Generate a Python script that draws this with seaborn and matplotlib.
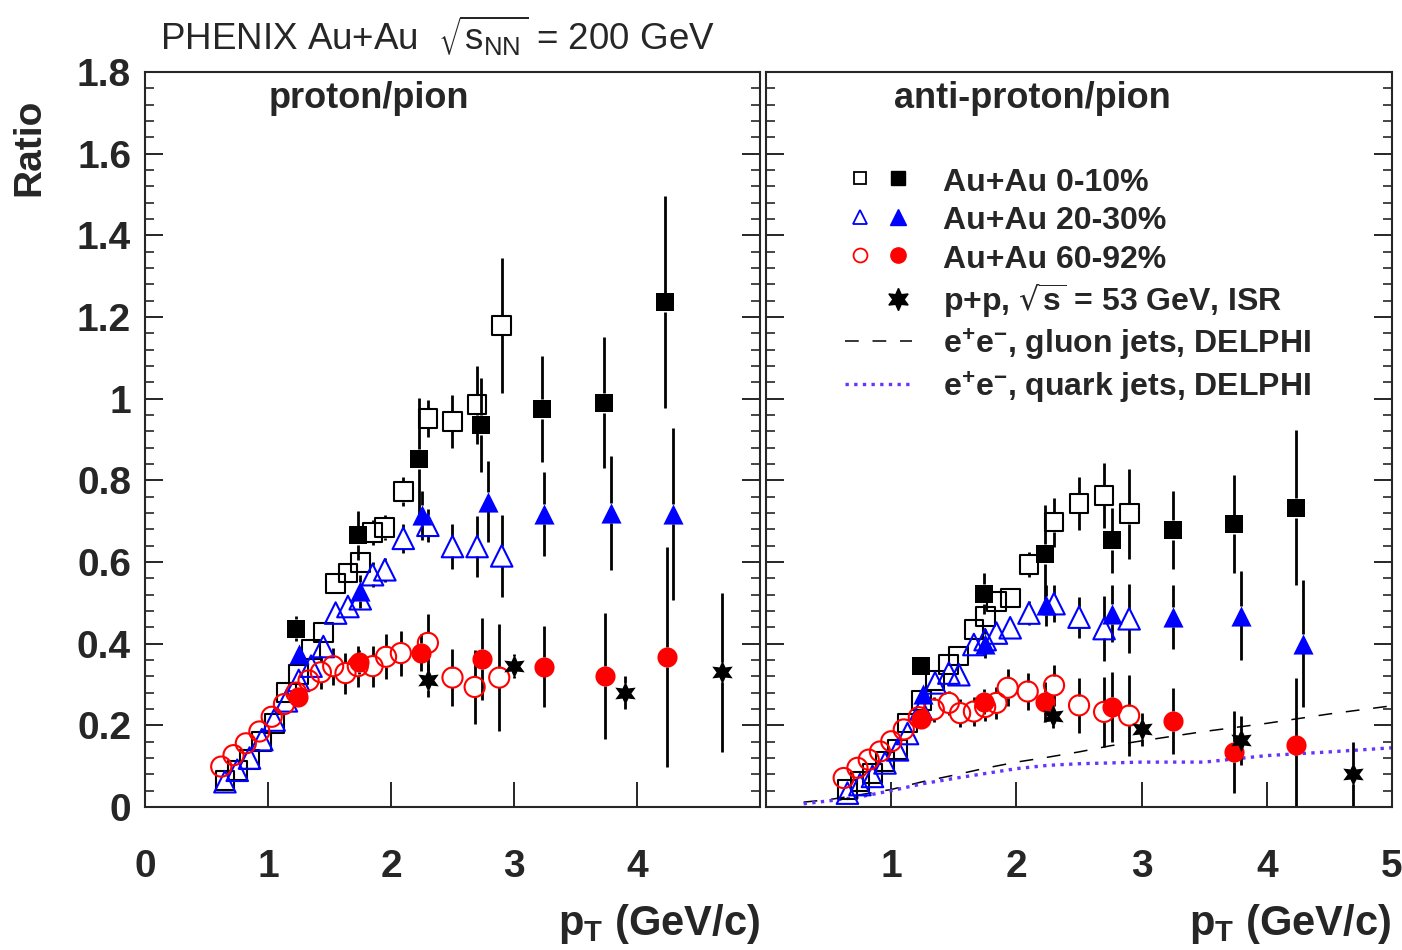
import matplotlib
matplotlib.use("Agg")
import matplotlib.pyplot as plt
import seaborn as sns
from matplotlib.markers import MarkerStyle
from matplotlib.lines import Line2D
from matplotlib.legend_handler import HandlerTuple
from matplotlib.ticker import MultipleLocator, FixedLocator

# ---- proton/pion (left panel) ----
p_open_sq_x = [0.65, 0.75, 0.85, 0.95, 1.05, 1.15, 1.25, 1.35, 1.45, 1.55, 1.65, 1.75, 1.85, 1.95, 2.1, 2.3, 2.5, 2.7, 2.9]
p_open_sq_y = [0.065, 0.09, 0.117, 0.16, 0.205, 0.28, 0.325, 0.385, 0.428, 0.548, 0.573, 0.598, 0.672, 0.684, 0.772, 0.952, 0.945, 0.985, 1.18]
p_open_sq_e = [0.004, 0.004, 0.005, 0.006, 0.007, 0.008, 0.01, 0.012, 0.014, 0.017, 0.02, 0.023, 0.03, 0.03, 0.035, 0.045, 0.065, 0.095, 0.165]

p_open_tr_x = [0.65, 0.75, 0.85, 0.95, 1.05, 1.15, 1.25, 1.35, 1.45, 1.55, 1.65, 1.75, 1.85, 1.95, 2.1, 2.3, 2.5, 2.7, 2.9]
p_open_tr_y = [0.062, 0.09, 0.12, 0.165, 0.213, 0.26, 0.31, 0.345, 0.393, 0.475, 0.491, 0.51, 0.569, 0.581, 0.658, 0.69, 0.638, 0.638, 0.615]
p_open_tr_e = [0.004, 0.004, 0.005, 0.006, 0.007, 0.008, 0.01, 0.011, 0.013, 0.015, 0.02, 0.025, 0.03, 0.03, 0.035, 0.04, 0.055, 0.075, 0.1]

p_open_ci_x = [0.62, 0.72, 0.82, 0.93, 1.03, 1.13, 1.23, 1.33, 1.43, 1.53, 1.63, 1.73, 1.85, 1.96, 2.08, 2.3, 2.5, 2.68, 2.88]
p_open_ci_y = [0.099, 0.127, 0.156, 0.185, 0.221, 0.252, 0.28, 0.31, 0.33, 0.345, 0.328, 0.345, 0.345, 0.368, 0.377, 0.402, 0.317, 0.294, 0.317]
p_open_ci_e = [0.004, 0.005, 0.006, 0.007, 0.008, 0.01, 0.012, 0.02, 0.04, 0.045, 0.05, 0.05, 0.05, 0.055, 0.055, 0.07, 0.07, 0.09, 0.13]

p_sq_x = [1.23, 1.73, 2.23, 2.73, 3.23, 3.73, 4.23]
p_sq_y = [0.437, 0.665, 0.852, 0.935, 0.975, 0.99, 1.236]
p_sq_e = [0.03, 0.06, 0.15, 0.115, 0.13, 0.16, 0.26]

p_tr_x = [1.25, 1.75, 2.25, 2.79, 3.24, 3.79, 4.29]
p_tr_y = [0.375, 0.528, 0.715, 0.748, 0.717, 0.72, 0.717]
p_tr_e = [0.02, 0.04, 0.06, 0.1, 0.103, 0.14, 0.21]

p_ci_x = [1.24, 1.74, 2.24, 2.74, 3.24, 3.74, 4.24]
p_ci_y = [0.27, 0.355, 0.378, 0.362, 0.344, 0.321, 0.367]
p_ci_e = [0.015, 0.03, 0.045, 0.1, 0.1, 0.155, 0.27]

p_pp_x = [2.30, 3.00, 3.90, 4.69]
p_pp_y = [0.31, 0.345, 0.28, 0.33]
p_pp_e = [0.04, 0.03, 0.04, 0.195]

# ---- anti-proton/pion (right panel) ----
a_open_sq_x = [0.65, 0.75, 0.85, 0.95, 1.05, 1.13, 1.24, 1.35, 1.46, 1.54, 1.66, 1.75, 1.84, 1.95, 2.1, 2.3, 2.5, 2.7, 2.9]
a_open_sq_y = [0.042, 0.063, 0.083, 0.112, 0.14, 0.206, 0.26, 0.31, 0.349, 0.37, 0.435, 0.467, 0.504, 0.512, 0.594, 0.698, 0.743, 0.763, 0.718]
a_open_sq_e = [0.004, 0.004, 0.005, 0.006, 0.007, 0.008, 0.01, 0.012, 0.014, 0.016, 0.018, 0.02, 0.022, 0.025, 0.03, 0.06, 0.065, 0.08, 0.11]

a_open_tr_x = [0.65, 0.75, 0.85, 0.95, 1.05, 1.13, 1.24, 1.35, 1.46, 1.54, 1.66, 1.75, 1.84, 1.95, 2.1, 2.3, 2.5, 2.7, 2.9]
a_open_tr_y = [0.034, 0.055, 0.075, 0.108, 0.14, 0.18, 0.24, 0.304, 0.328, 0.324, 0.398, 0.41, 0.426, 0.439, 0.475, 0.498, 0.465, 0.437, 0.461]
a_open_tr_e = [0.004, 0.004, 0.005, 0.006, 0.007, 0.008, 0.01, 0.012, 0.014, 0.016, 0.018, 0.02, 0.022, 0.025, 0.03, 0.045, 0.05, 0.08, 0.085]

a_open_ci_x = [0.62, 0.73, 0.82, 0.91, 1.0, 1.1, 1.22, 1.34, 1.46, 1.55, 1.66, 1.75, 1.84, 1.93, 2.09, 2.3, 2.5, 2.7, 2.9]
a_open_ci_y = [0.071, 0.096, 0.116, 0.136, 0.161, 0.19, 0.22, 0.239, 0.255, 0.23, 0.234, 0.245, 0.255, 0.292, 0.283, 0.298, 0.249, 0.233, 0.224]
a_open_ci_e = [0.004, 0.005, 0.006, 0.007, 0.008, 0.01, 0.012, 0.03, 0.03, 0.035, 0.035, 0.035, 0.04, 0.045, 0.045, 0.05, 0.067, 0.085, 0.1]

a_sq_x = [1.24, 1.74, 2.23, 2.76, 3.25, 3.74, 4.23]
a_sq_y = [0.345, 0.522, 0.62, 0.653, 0.678, 0.692, 0.733]
a_sq_e = [0.025, 0.05, 0.12, 0.08, 0.095, 0.12, 0.19]

a_tr_x = [1.25, 1.75, 2.24, 2.76, 3.25, 3.79, 4.29]
a_tr_y = [0.277, 0.40, 0.494, 0.473, 0.465, 0.469, 0.40]
a_tr_e = [0.02, 0.035, 0.05, 0.07, 0.078, 0.11, 0.155]

a_ci_x = [1.24, 1.74, 2.23, 2.76, 3.25, 3.74, 4.23]
a_ci_y = [0.215, 0.258, 0.257, 0.245, 0.211, 0.135, 0.151]
a_ci_e = [0.015, 0.03, 0.05, 0.085, 0.08, 0.1, 0.165]

a_pp_x = [2.29, 3.00, 3.79, 4.69]
a_pp_y = [0.224, 0.19, 0.163, 0.08]
a_pp_e = [0.03, 0.04, 0.06, 0.08]

# DELPHI e+e- curves
gluon_x = [0.3, 0.5, 0.75, 1.0, 1.25, 1.5, 1.75, 2.0, 2.25, 2.5, 2.75, 3.0, 3.5, 4.0, 4.5, 5.0]
gluon_y = [0.012, 0.018, 0.03, 0.043, 0.062, 0.078, 0.095, 0.11, 0.122, 0.135, 0.15, 0.162, 0.185, 0.205, 0.228, 0.248]
quark_x = [0.3, 0.5, 0.75, 1.0, 1.25, 1.5, 1.75, 2.0, 2.25, 2.5, 2.75, 3.0, 3.25, 3.5, 3.75, 4.0, 4.5, 5.0]
quark_y = [0.008, 0.015, 0.025, 0.04, 0.057, 0.07, 0.082, 0.094, 0.102, 0.106, 0.108, 0.11, 0.11, 0.11, 0.118, 0.126, 0.135, 0.145]

labels = ["Au+Au 0-10%", "Au+Au 20-30%", "Au+Au 60-92%",
          r"p+p, $\sqrt{s}$ = 53 GeV, ISR",
          r"e$^{+}$e$^{-}$, gluon jets, DELPHI",
          r"e$^{+}$e$^{-}$, quark jets, DELPHI"]

BLUE = "#0000ff"
RED = "#ff0000"
DOT = "#6633ff"

sns.set_style("ticks")
plt.rcParams["font.family"] = ["Liberation Sans", "DejaVu Sans"]
plt.rcParams["mathtext.default"] = "regular"

fig = plt.figure(figsize=(14.02, 9.5), dpi=100)
ax1 = fig.add_axes([0.1034, 0.1505, 0.4387, 0.7737])
ax2 = fig.add_axes([0.5464, 0.1505, 0.4465, 0.7737])

GAP = 0.024  # error bar hidden inside marker


def bars(ax, x, y, e):
    for xi, yi, ei in zip(x, y, e):
        if ei > GAP:
            ax.vlines(xi, yi + GAP, yi + ei, color="black", lw=2.0, zorder=2)
            ax.vlines(xi, yi - ei, yi - GAP, color="black", lw=2.0, zorder=2)


def open_pts(ax, x, y, e, marker, color, size):
    bars(ax, x, y, e)
    sns.scatterplot(x=x, y=y, ax=ax, marker=MarkerStyle(marker, fillstyle="none"),
                    color=color, s=size ** 2, linewidth=1.5, zorder=3)


def fill_pts(ax, x, y, e, marker, color, size):
    bars(ax, x, y, e)
    sns.scatterplot(x=x, y=y, ax=ax, marker=marker, color=color, edgecolor=color,
                    s=size ** 2, linewidth=0, zorder=4)


STAR = (6, 1, 0)

for ax, d in [(ax1, "p"), (ax2, "a")]:
    g = globals()
    open_pts(ax, g[d + "_open_sq_x"], g[d + "_open_sq_y"], g[d + "_open_sq_e"], "s", "black", 13.5)
    open_pts(ax, g[d + "_open_tr_x"], g[d + "_open_tr_y"], g[d + "_open_tr_e"], "^", BLUE, 15.5)
    open_pts(ax, g[d + "_open_ci_x"], g[d + "_open_ci_y"], g[d + "_open_ci_e"], "o", RED, 14.5)
    fill_pts(ax, g[d + "_sq_x"], g[d + "_sq_y"], g[d + "_sq_e"], "s", "black", 12.5)
    fill_pts(ax, g[d + "_tr_x"], g[d + "_tr_y"], g[d + "_tr_e"], "^", BLUE, 14.5)
    fill_pts(ax, g[d + "_ci_x"], g[d + "_ci_y"], g[d + "_ci_e"], "o", RED, 14.5)
    fill_pts(ax, g[d + "_pp_x"], g[d + "_pp_y"], g[d + "_pp_e"], STAR, "black", 17)

    ax.set_xlim(0, 5)
    ax.set_ylim(0, 1.8)
    ax.set_xlabel("")
    ax.set_ylabel("")
    for sp in ax.spines.values():
        sp.set_visible(True)
        sp.set_linewidth(1.5)
    ax.yaxis.set_major_locator(MultipleLocator(0.2))
    ax.yaxis.set_minor_locator(MultipleLocator(0.04))
    ax.tick_params(axis="y", which="major", direction="in", length=13, width=1.4,
                   left=True, right=True, labelsize=28, pad=10)
    ax.tick_params(axis="y", which="minor", direction="in", length=6.5, width=1.2,
                   left=True, right=True)
    ax.tick_params(axis="x", which="major", direction="in", length=18, width=1.4,
                   top=False, bottom=True, labelsize=28, pad=30)
    ax.tick_params(axis="x", which="minor", bottom=False, top=False)

sns.lineplot(x=gluon_x, y=gluon_y, ax=ax2, color="black", lw=1.1,
             linestyle=(0, (9, 9)), errorbar=None, zorder=1)
sns.lineplot(x=quark_x, y=quark_y, ax=ax2, color=DOT, lw=2.4,
             linestyle=(0, (1, 1.6)), errorbar=None, zorder=1)

ax1.xaxis.set_major_locator(FixedLocator([0, 1, 2, 3, 4]))
ax1.set_xticklabels(["0", "1", "2", "3", "4"], fontweight="bold")
ax1.set_yticks([0, 0.2, 0.4, 0.6, 0.8, 1.0, 1.2, 1.4, 1.6, 1.8])
ax1.set_yticklabels(["0", "0.2", "0.4", "0.6", "0.8", "1", "1.2", "1.4", "1.6", "1.8"],
                    fontweight="bold")
ax1.yaxis.set_minor_locator(MultipleLocator(0.04))
ax2.xaxis.set_major_locator(FixedLocator([0, 1, 2, 3, 4, 5]))
ax2.set_xticklabels(["", "1", "2", "3", "4", "5"], fontweight="bold")
ax2.set_yticks([0, 0.2, 0.4, 0.6, 0.8, 1.0, 1.2, 1.4, 1.6, 1.8])
ax2.yaxis.set_minor_locator(MultipleLocator(0.04))
ax2.set_yticklabels([])

ax1.text(0.364, 0.964, "proton/pion", transform=ax1.transAxes, ha="center", va="center",
         fontsize=26, fontweight="bold")
ax2.text(0.425, 0.964, "anti-proton/pion", transform=ax2.transAxes, ha="center", va="center",
         fontsize=26, fontweight="bold")

fig.text(0.114, 0.962, r"PHENIX Au+Au  $\sqrt{s_{NN}}$ = 200 GeV", ha="left", va="center",
         fontsize=26.5)
fig.text(0.021, 0.845, "Ratio", rotation=90, ha="center", va="center", fontsize=28,
         fontweight="bold")
fig.text(0.542, 0.027, r"p$_{T}$ (GeV/c)", ha="right", va="center", fontsize=30,
         fontweight="bold")
fig.text(0.992, 0.027, r"p$_{T}$ (GeV/c)", ha="right", va="center", fontsize=30,
         fontweight="bold")

# legend
blank = Line2D([], [], ls="none")
h_sq = (Line2D([], [], marker="s", ls="none", mfc="none", mec="black", ms=9, mew=1.3),
        Line2D([], [], marker="s", ls="none", color="black", ms=10.5))
h_tr = (Line2D([], [], marker="^", ls="none", mfc="none", mec=BLUE, ms=10, mew=1.3),
        Line2D([], [], marker="^", ls="none", color=BLUE, ms=11))
h_ci = (Line2D([], [], marker="o", ls="none", mfc="none", mec=RED, ms=10, mew=1.3),
        Line2D([], [], marker="o", ls="none", color=RED, ms=11))
h_pp = (blank, Line2D([], [], marker=STAR, ls="none", color="black", ms=16))
h_gl = Line2D([], [], color="black", lw=1.1, ls=(0, (9, 9)))
h_qk = Line2D([], [], color=DOT, lw=2.4, ls=(0, (1, 1.6)))
ax2.legend([h_sq, h_tr, h_ci, h_pp, h_gl, h_qk], labels,
           handler_map={tuple: HandlerTuple(ndivide=None, pad=0.28)},
           loc="upper left", bbox_to_anchor=(0.5936, 0.8393), bbox_transform=fig.transFigure,
           frameon=False, prop={"weight": "bold", "size": 23},
           handlelength=2.1, handletextpad=0.97, handleheight=1.0, labelspacing=0.2,
           borderaxespad=0)

fig.savefig("out.png", dpi=100)
